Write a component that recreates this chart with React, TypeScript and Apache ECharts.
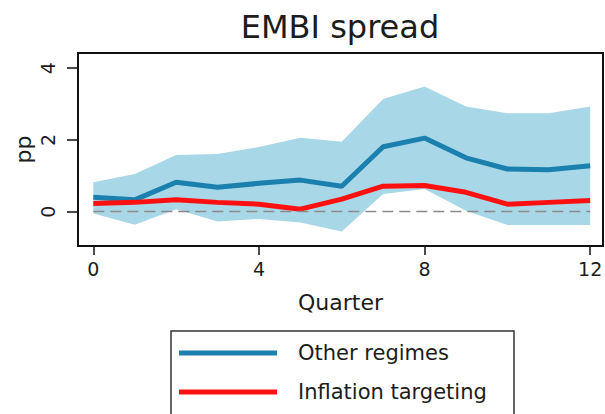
import React, { useEffect, useRef } from "react";
import * as echarts from "echarts";

const quarters = [0, 1, 2, 3, 4, 5, 6, 7, 8, 9, 10, 11, 12];
const otherRegimes = [0.40, 0.33, 0.82, 0.68, 0.79, 0.88, 0.71, 1.81, 2.05, 1.50, 1.19, 1.17, 1.28];
const inflationTargeting = [0.23, 0.26, 0.33, 0.26, 0.21, 0.07, 0.35, 0.71, 0.73, 0.54, 0.21, 0.26, 0.31];
const bandUpper = [0.82, 1.05, 1.58, 1.61, 1.80, 2.06, 1.95, 3.14, 3.49, 2.93, 2.74, 2.74, 2.93];
const bandLower = [-0.05, -0.36, 0.07, -0.27, -0.20, -0.30, -0.55, 0.49, 0.63, 0.03, -0.37, -0.37, -0.37];
const xTicks = [0, 4, 8, 12];
const yTicks = [0, 2, 4];

const FONT = "DejaVu Sans";
const TEXT = "#1c1c1c";

export default function App() {
  const ref = useRef<HTMLDivElement>(null);
  useEffect(() => {
    if (!ref.current) return;
    const chart = echarts.init(ref.current, null, { renderer: "svg" });
    const pairs = (ys: number[]) => quarters.map((q, i) => [q, ys[i]]);
    chart.setOption({
      animation: false,
      backgroundColor: "#ffffff",
      textStyle: { fontFamily: FONT },
      graphic: [
        {
          type: "text",
          x: 340,
          y: 27,
          style: {
            text: "EMBI spread",
            font: `32px "${FONT}"`,
            fill: TEXT,
            align: "center",
            verticalAlign: "middle",
          },
        },
        {
          type: "rect",
          shape: { x: 171, y: 331, width: 343, height: 100 },
          style: { fill: "none", stroke: "#333", lineWidth: 1.5 },
          silent: true,
        },
      ],
      grid: {
        left: 78,
        right: 2,
        top: 53,
        bottom: 168,
        containLabel: false,
        outerBoundsMode: "none",
        show: true,
        borderColor: "#111",
        borderWidth: 2,
        backgroundColor: "transparent",
      },
      legend: {
        orient: "vertical",
        left: 171,
        top: 331,
        data: ["Other regimes", "Inflation targeting"],
        icon: "rect",
        itemWidth: 98,
        itemHeight: 5,
        itemGap: 15,
        padding: [10, 27, 0, 8],
        borderWidth: 0,
        selectedMode: false,
        textStyle: {
          fontFamily: FONT,
          fontSize: 21,
          color: TEXT,
          lineHeight: 24,
          padding: [0, 0, 0, 16],
        },
      },
      xAxis: {
        type: "value",
        min: -0.37,
        max: 12.31,
        name: "Quarter",
        nameLocation: "middle",
        nameGap: 45,
        nameMoveOverlap: false,
        nameTextStyle: { fontFamily: FONT, fontSize: 22, color: TEXT },
        axisLine: { show: false, onZero: false },
        axisTick: {
          show: true,
          customValues: xTicks,
          length: 9,
          lineStyle: { color: "#111", width: 1.5 },
        },
        axisLabel: {
          customValues: xTicks,
          fontFamily: FONT,
          fontSize: 19,
          color: TEXT,
          margin: 13,
        },
        splitLine: { show: false },
      },
      yAxis: {
        type: "value",
        min: -0.955,
        max: 4.42,
        name: "pp",
        nameLocation: "middle",
        nameRotate: 90,
        nameGap: 44,
        nameMoveOverlap: false,
        nameTextStyle: { fontFamily: FONT, fontSize: 22, color: TEXT },
        axisLine: { show: false, onZero: false },
        axisTick: {
          show: true,
          customValues: yTicks,
          length: 11,
          lineStyle: { color: "#111", width: 1.5 },
        },
        axisLabel: {
          customValues: yTicks,
          rotate: 90,
          fontFamily: FONT,
          fontSize: 19,
          color: TEXT,
          margin: 21,
        },
        splitLine: { show: false },
      },
      series: [
        {
          name: "band",
          type: "custom",
          silent: true,
          z: 1,
          data: quarters.map((q, i) => [q, bandLower[i], bandUpper[i]]),
          encode: { x: 0, y: [1, 2] },
          renderItem: (params: any, api: any) => {
            if (params.dataIndex !== 0) return null;
            const upper = quarters.map((q, i) => api.coord([q, bandUpper[i]]));
            const lower = quarters.map((q, i) => api.coord([q, bandLower[i]])).reverse();
            return {
              type: "polygon",
              shape: { points: upper.concat(lower) },
              style: { fill: "#a8d7e7", stroke: "none" },
            };
          },
        },
        {
          name: "Other regimes",
          type: "line",
          data: pairs(otherRegimes),
          showSymbol: false,
          symbol: "none",
          color: "#1b80ae",
          lineStyle: { color: "#1b80ae", width: 5 },
          itemStyle: { color: "#1b80ae" },
          z: 3,
          markLine: {
            silent: true,
            symbol: "none",
            label: { show: false },
            lineStyle: { color: "#8a8a8a", type: [11, 6], width: 1.3 },
            data: [[{ coord: [0, 0] }, { coord: [12, 0] }]],
          },
        },
        {
          name: "Inflation targeting",
          type: "line",
          data: pairs(inflationTargeting),
          showSymbol: false,
          symbol: "none",
          color: "#fe1010",
          lineStyle: { color: "#fe1010", width: 5 },
          itemStyle: { color: "#fe1010" },
          z: 4,
        },
      ],
    });
    return () => chart.dispose();
  }, []);
  return (
    <div
      ref={ref}
      style={{ position: "fixed", left: 0, top: 0, width: 605, height: 414, background: "#fff" }}
    />
  );
}
